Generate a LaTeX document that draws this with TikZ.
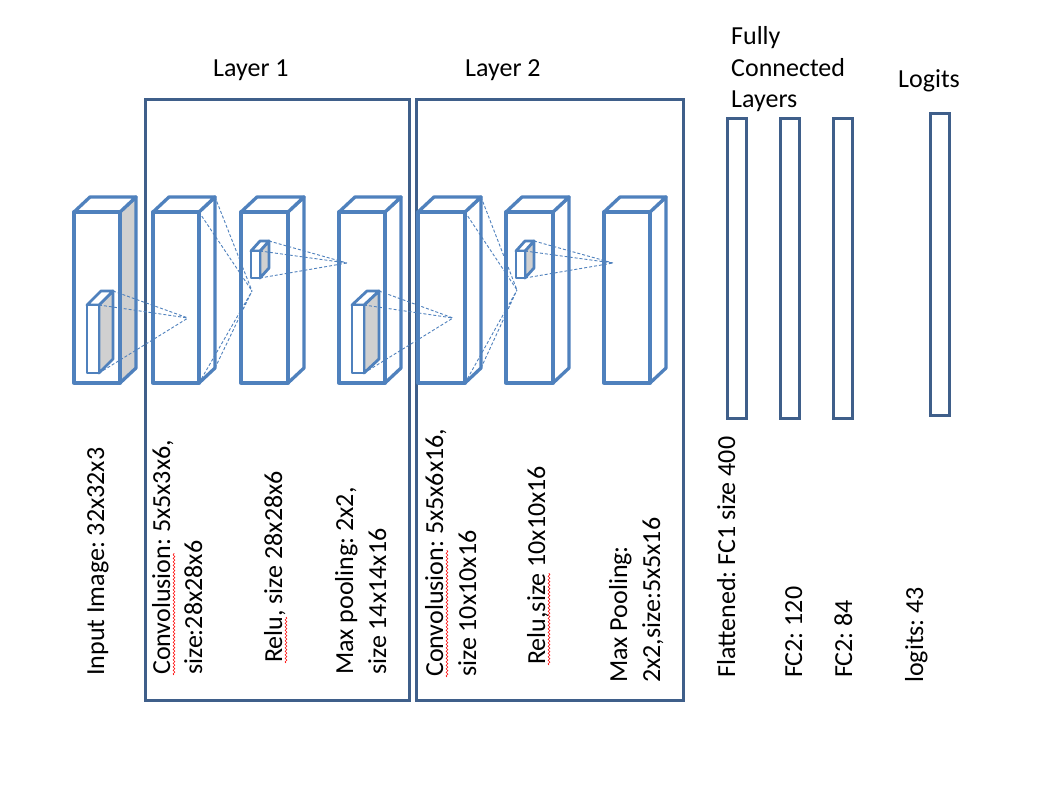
\documentclass[tikz,border=0pt]{standalone}
\usepackage{fontspec}
\setmainfont{Carlito}
\frenchspacing
\usetikzlibrary{calc,decorations.pathmorphing}
\definecolor{boxblue}{HTML}{4F81BD}
\definecolor{frameblue}{HTML}{3F5F8A}
\definecolor{sidegray}{HTML}{D0D0D0}
\tikzset{
  boxline/.style={draw=boxblue, line width=3.3pt, line join=round},
  kernline/.style={draw=boxblue, line width=2.8pt, line join=round},
  frameline/.style={draw=frameblue, line width=3pt},
  fcline/.style={draw=frameblue, line width=3pt},
  guide/.style={draw=boxblue, line width=0.9pt, dash pattern=on 3pt off 2pt},
  vlabel/.style={rotate=90, anchor=base west, inner sep=0pt},
  hlabel/.style={anchor=base west, inner sep=0pt},
  squig/.style={draw=red, line width=0.6pt, decorate, decoration={snake, segment length=3.5pt, amplitude=0.9pt}}
}
% name, left, top, right, bottom, dx, dy, side fill, style
\newcommand\cnnbox[9]{%
  \coordinate (#1-ftl) at (#2,#3);
  \coordinate (#1-ftr) at (#4,#3);
  \coordinate (#1-fbr) at (#4,#5);
  \coordinate (#1-fbl) at (#2,#5);
  \coordinate (#1-btl) at (#2+#6,#3-#7);
  \coordinate (#1-btr) at (#4+#6,#3-#7);
  \coordinate (#1-bbr) at (#4+#6,#5-#7);
  \draw[#9, fill=#8] (#1-ftr) -- (#1-btr) -- (#1-bbr) -- (#1-fbr) -- cycle;
  \draw[#9, fill=white] (#1-ftl) -- (#1-btl) -- (#1-btr) -- (#1-ftr) -- cycle;
  \draw[#9, fill=white] (#1-ftl) rectangle (#1-fbr);
}
\begin{document}
\begin{tikzpicture}[x=1pt, y=-1pt, font=\fontsize{26}{31.7}\selectfont]
\fill[white] (0,0) rectangle (1054,784);
\useasboundingbox (0,0) rectangle (1054,784);

% layer frames
\draw[frameline] (145,99) rectangle (409,700);
\draw[frameline] (416,99) rectangle (683,700);

% feature-map boxes
\cnnbox{inp}{74}{212}{120}{383}{16}{15}{sidegray}{boxline}
\cnnbox{conva}{153}{212}{199}{383}{16}{15}{white}{boxline}
\cnnbox{relua}{241}{212}{288}{383}{16}{15}{white}{boxline}
\cnnbox{poola}{339}{212}{385}{383}{16}{15}{white}{boxline}
\cnnbox{convb}{418}{212}{465}{383}{16}{15}{white}{boxline}
\cnnbox{relub}{506}{212}{553}{383}{16}{15}{white}{boxline}
\cnnbox{poolb}{604}{212}{650}{383}{16}{15}{white}{boxline}

% kernels
\cnnbox{ka}{87}{305}{99}{373}{14}{14}{sidegray}{kernline}
\cnnbox{kb}{251}{251}{260}{278}{9}{10}{sidegray}{kernline}
\cnnbox{kc}{352}{305}{364}{373}{15}{14}{sidegray}{kernline}
\cnnbox{kd}{516}{251}{525}{278}{9}{10}{sidegray}{kernline}

% target points
\coordinate (ta) at (188,318);
\coordinate (tb) at (252,291);
\coordinate (tc) at (347,263);
\coordinate (td) at (453,318);
\coordinate (te) at (517,290);
\coordinate (tf) at (613,263);

% guide lines
\draw[guide] (ka-btr) -- (ta) (ka-ftr) -- (ta) (ka-fbr) -- (ta);
\draw[guide] (conva-btr) -- (tb) (conva-ftr) -- (tb) (conva-fbr) -- (tb) (conva-bbr) -- (tb);
\draw[guide] (kb-btr) -- (tc) (kb-ftr) -- (tc) (kb-fbr) -- (tc);
\draw[guide] (kc-btr) -- (td) (kc-ftr) -- (td) (kc-fbr) -- (td);
\draw[guide] (convb-btr) -- (te) (convb-ftr) -- (te) (convb-fbr) -- (te) (convb-bbr) -- (te);
\draw[guide] (kd-btr) -- (tf) (kd-ftr) -- (tf) (kd-fbr) -- (tf);

% fully connected layers
\draw[fcline] (727,118) rectangle (746,418);
\draw[fcline] (780,118) rectangle (799,418);
\draw[fcline] (833,118) rectangle (852,418);
\draw[fcline] (930,113) rectangle (949,415);

% top labels
\node[hlabel] (l1) at (213,76) {Layer 1};
\node[hlabel] (l2) at (465,76) {Layer 2};
\node[hlabel] (fca) at (731,45) {Fully};
\node[hlabel] (fcb) at (731,76) {Connected};
\node[hlabel] (fcc) at (731,107) {Layers};
\node[hlabel] (lg) at (898,87) {Logits};

% vertical labels
\node[vlabel] (inpl) at (104,676) {Input Image: 32x32x3};
\node[vlabel] (conv1a) at (170,675) {Convolusion: 5x5x3x6,};
\node[vlabel] (conv1b) at (202,675) {size:28x28x6};
\node[vlabel] (relu1) at (282,663) {Relu, size 28x28x6};
\node[vlabel] (pool1a) at (353,675) {Max pooling: 2x2,};
\node[vlabel] (pool1b) at (386,675) {size 14x14x16};
\node[vlabel] (conv2a) at (443,677) {Convolusion: 5x5x6x16,};
\node[vlabel] (conv2b) at (476,677) {size 10x10x16};
\node[vlabel] (relu2) at (545,665) {Relu,size 10x10x16};
\node[vlabel] (pool2a) at (627,683) {Max Pooling:};
\node[vlabel] (pool2b) at (660,683) {2x2,size:5x5x16};
\node[vlabel] (flat) at (735,678) {Flattened: FC1 size 400};
\node[vlabel] (fc2l) at (802,678) {FC2: 120};
\node[vlabel] (fc3l) at (852,678) {FC2: 84};
\node[vlabel] (logl) at (923,683) {logits: 43};

% spell-check underlines
\draw[squig] ($(conv1a.base west)+(4,0)$) -- ++(0,-122);
\draw[squig] ($(relu1.base west)+(4,0)$) -- ++(0,-46);
\draw[squig] ($(conv2a.base west)+(4,0)$) -- ++(0,-127);
\draw[squig] ($(relu2.base west)+(4,0)$) -- ++(0,-92);
\end{tikzpicture}
\end{document}
